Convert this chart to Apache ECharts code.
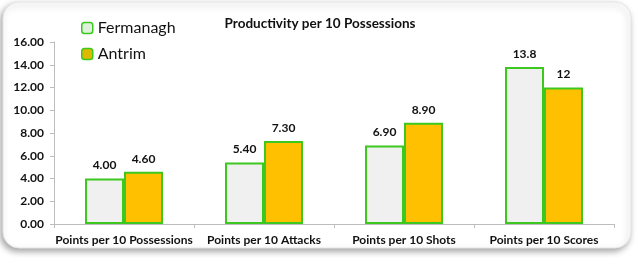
<!DOCTYPE html>
<html><head><meta charset="utf-8">
<script src="https://cdn.jsdelivr.net/npm/echarts@6/dist/echarts.min.js"></script>
<style>html,body{margin:0;padding:0;background:#fff}#c{width:640px;height:258px}</style>
</head><body><div id="c"></div>
<script>
const categories = ['Points per 10 Possessions','Points per 10 Attacks','Points per 10 Shots','Points per 10 Scores'];
const fermanagh = [4.0, 5.4, 6.9, 13.8];
const antrim = [4.6, 7.3, 8.9, 12];
const fermanaghLabels = ['4.00','5.40','6.90','13.8'];
const antrimLabels = ['4.60','7.30','8.90','12'];
const yTicks = [0,2,4,6,8,10,12,14,16];

const font = 'Lato';
const chart = echarts.init(document.getElementById('c'));
const lbl = (arr) => ({show:true, position:'top', distance:7, color:'#111', fontFamily:font, fontWeight:'bold', fontSize:12,
  formatter: p => arr[p.dataIndex]});
chart.setOption({
  animation:false,
  backgroundColor:'#fff',
  graphic:[{type:'rect', z:-10, shape:{x:3,y:2,width:628,height:246,r:16},
    style:{fill:'#fff', stroke:'#e6e6e6', lineWidth:1, shadowColor:'rgba(0,0,0,0.35)', shadowBlur:6, shadowOffsetX:-2, shadowOffsetY:3}}],
  title:{text:'Productivity per 10 Possessions', left:'center', top:12,
    textStyle:{fontFamily:font, fontWeight:'bold', fontSize:13.5, color:'#111'}},
  legend:{orient:'vertical', left:76, top:15, itemWidth:11, itemHeight:11, itemGap:10,
    textStyle:{fontFamily:font, fontSize:16, color:'#111'},
    data:[{name:'Fermanagh', itemStyle:{color:'#dff0dc', borderColor:'#3cc81e', borderWidth:1.5}},
          {name:'Antrim', itemStyle:{color:'#e0b800', borderColor:'#3cc81e', borderWidth:1.5}}]},
  grid:{left:54, right:26, top:42, bottom:34},
  xAxis:{type:'category', data:categories,
    axisLine:{lineStyle:{color:'#bdbdbd'}}, axisTick:{show:true, length:4, lineStyle:{color:'#bdbdbd'}},
    axisLabel:{interval:0, fontFamily:font, fontWeight:'bold', fontSize:12, color:'#111', margin:10}},
  yAxis:{type:'value', min:yTicks[0], max:yTicks[yTicks.length-1], interval:2,
    splitLine:{show:false}, axisLine:{show:true, lineStyle:{color:'#bdbdbd'}},
    axisTick:{show:true, length:4, lineStyle:{color:'#bdbdbd'}},
    axisLabel:{fontFamily:font, fontWeight:'bold', fontSize:12, color:'#111', margin:10, formatter:v=>v.toFixed(2)}},
  series:[
    {name:'Fermanagh', type:'bar', data:fermanagh, barWidth:39, barGap:'0%',
      itemStyle:{borderColor:'#3cc81e', borderWidth:2,
        color:{type:'linear',x:0,y:0,x2:1,y2:0,colorStops:[{offset:0,color:'#e6f5e0'},{offset:0.15,color:'#f0f0f0'},{offset:0.85,color:'#f0f0f0'},{offset:1,color:'#e6f5e0'}]}},
      label:lbl(fermanaghLabels)},
    {name:'Antrim', type:'bar', data:antrim, barWidth:39,
      itemStyle:{borderColor:'#3cc81e', borderWidth:2, color:'#ffc000'},
      label:lbl(antrimLabels)}
  ]
});
</script></body></html>
